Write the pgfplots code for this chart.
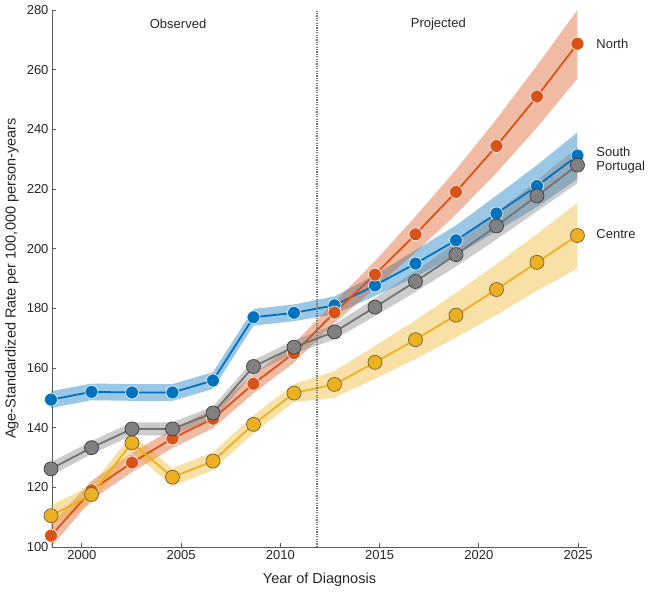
\documentclass[border=0pt]{standalone}
\usepackage{fontspec}
\setmainfont{Liberation Sans}
\usepackage{pgfplots}
\usepackage{pgfplotstable}
\pgfplotsset{compat=1.18}
\usepgfplotslibrary{fillbetween}

\definecolor{cN}{HTML}{D95319}
\definecolor{cS}{HTML}{0072BD}
\definecolor{cC}{HTML}{EDB120}
\definecolor{cP}{HTML}{808080}
\definecolor{cPe}{HTML}{3C3C3C}
\definecolor{cCe}{HTML}{6E6040}
\definecolor{txt}{HTML}{262626}

\pgfplotstableread{
x y lo hi
1998.45 103.8 100.0 107.6
2000.49 119.0 115.8 122.2
2002.53 128.3 125.1 131.5
2004.57 136.4 133.2 139.6
2006.61 143.0 139.8 146.2
2008.65 154.7 151.5 157.9
2010.69 165.0 161.8 168.2
2012.73 178.6 175.1 182.1
2014.77 191.3 186.8 195.8
2016.81 204.8 198.8 210.8
2018.85 219.0 211.5 226.5
2020.89 234.4 225.4 243.4
2022.93 251.0 240.6 261.4
2024.97 268.7 257.0 280.0
}\north

\pgfplotstableread{
x y lo hi
1998.45 149.4 146.6 152.2
2000.49 152.0 149.2 154.8
2002.53 151.8 149.0 154.6
2004.57 151.8 149.0 154.6
2006.61 155.8 153.0 158.6
2008.65 177.0 174.2 179.8
2010.69 178.5 175.7 181.3
2012.73 181.0 178.0 184.0
2014.77 187.7 184.2 191.2
2016.81 195.0 190.5 199.5
2018.85 202.8 197.8 207.8
2020.89 211.8 205.8 217.8
2022.93 221.0 214.0 228.0
2024.97 231.2 223.4 239.0
}\south

\pgfplotstableread{
x y lo hi
1998.45 126.2 124.0 128.4
2000.49 133.3 131.1 135.5
2002.53 139.6 137.4 141.8
2004.57 139.6 137.4 141.8
2006.61 144.9 142.7 147.1
2008.65 160.5 158.3 162.7
2010.69 167.0 164.8 169.2
2012.73 172.1 169.6 174.6
2014.77 180.4 177.4 183.4
2016.81 189.0 185.5 192.5
2018.85 198.0 194.0 202.0
2020.89 207.6 203.1 212.1
2022.93 217.7 212.5 222.9
2024.97 228.0 222.0 234.0
}\portugal

\pgfplotstableread{
x y lo hi
1998.45 110.5 107.0 114.0
2000.49 117.6 114.6 120.6
2002.53 134.9 131.9 137.9
2004.57 123.4 120.4 126.4
2006.61 128.8 125.8 131.8
2008.65 141.1 138.1 144.1
2010.69 151.6 148.6 154.6
2012.73 154.5 150.0 159.0
2014.77 161.9 156.4 167.4
2016.81 169.5 163.0 176.0
2018.85 177.7 170.2 185.2
2020.89 186.3 177.8 194.8
2022.93 195.4 185.9 204.9
2024.97 204.4 193.4 215.4
}\centre

\begin{document}
\begin{tikzpicture}
\begin{axis}[
  at={(0,0)}, anchor=south west,
  scale only axis, width=535pt, height=537pt,
  xmin=1998.5, xmax=2025.45, ymin=100, ymax=280,
  axis x line*=bottom, axis y line*=left,
  xtick={2000,2005,...,2025}, ytick={100,120,...,280},
  tick align=inside, major tick length=4pt,
  /pgf/number format/1000 sep={},
  /pgf/number format/assume math mode=true,
  tick label style={font=\fontsize{13}{15}\selectfont, text=txt},
  label style={font=\fontsize{14.5}{17}\selectfont, text=txt},
  axis line style={black!65, line width=0.7pt},
  tick style={black!65, line width=0.7pt},
  xlabel={Year of Diagnosis},
  ylabel={Age-Standardized Rate per 100,000 person-years},
  xlabel style={at={([yshift=-33pt]axis description cs:0.5,0)}, anchor=center},
  ylabel style={at={([xshift=-40pt]axis description cs:0,0.5)}, anchor=center},
  clip=false,
]
% South
\addplot[name path=Shi, draw=none, forget plot] table[x=x,y=hi]{\south};
\addplot[name path=Slo, draw=none, forget plot] table[x=x,y=lo]{\south};
\addplot[fill=cS, fill opacity=0.4, draw=none] fill between[of=Shi and Slo];
\addplot[cS, line width=1.8pt, mark=*, mark size=6.5pt, mark options={fill=cS, draw=white, line width=0.6pt}] table[x=x,y=y]{\south};
% North
\addplot[name path=Nhi, draw=none, forget plot] table[x=x,y=hi]{\north};
\addplot[name path=Nlo, draw=none, forget plot] table[x=x,y=lo]{\north};
\addplot[fill=cN, fill opacity=0.4, draw=none] fill between[of=Nhi and Nlo];
\addplot[cN, line width=1.8pt, mark=*, mark size=6.5pt, mark options={fill=cN, draw=white, line width=0.6pt}] table[x=x,y=y]{\north};
% Portugal
\addplot[name path=Phi, draw=none, forget plot] table[x=x,y=hi]{\portugal};
\addplot[name path=Plo, draw=none, forget plot] table[x=x,y=lo]{\portugal};
\addplot[fill=cP, fill opacity=0.4, draw=none] fill between[of=Phi and Plo];
\addplot[black!55, line width=1.8pt, mark=*, mark size=7pt, mark options={fill=cP, draw=cPe, line width=0.7pt}] table[x=x,y=y]{\portugal};
% Centre
\addplot[name path=Chi, draw=none, forget plot] table[x=x,y=hi]{\centre};
\addplot[name path=Clo, draw=none, forget plot] table[x=x,y=lo]{\centre};
\addplot[fill=cC, fill opacity=0.4, draw=none] fill between[of=Chi and Clo];
\addplot[cC, line width=1.8pt, mark=*, mark size=7pt, mark options={fill=cC, draw=cCe, line width=0.7pt}] table[x=x,y=y]{\centre};
% divider
\addplot[black!55, line width=2.2pt, dash pattern=on 1.2pt off 1.2pt] coordinates {(2011.83,100) (2011.83,280)};
\node[font=\fontsize{13}{15}\selectfont, text=txt] at (axis cs:2004.85,275.3) {Observed};
\node[font=\fontsize{13}{15}\selectfont, text=txt] at (axis cs:2017.96,275.3) {Projected};
\node[font=\fontsize{13}{15}\selectfont, text=txt, anchor=west] at (axis cs:2025.75,268.8) {North};
\node[font=\fontsize{13}{15}\selectfont, text=txt, anchor=west] at (axis cs:2025.75,232.3) {South};
\node[font=\fontsize{13}{15}\selectfont, text=txt, anchor=west] at (axis cs:2025.75,227.3) {Portugal};
\node[font=\fontsize{13}{15}\selectfont, text=txt, anchor=west] at (axis cs:2025.75,204.8) {Centre};
\end{axis}
\pgfresetboundingbox
\path[use as bounding box] (-52pt,-48pt) rectangle (596pt,547pt);
\end{tikzpicture}
\end{document}
